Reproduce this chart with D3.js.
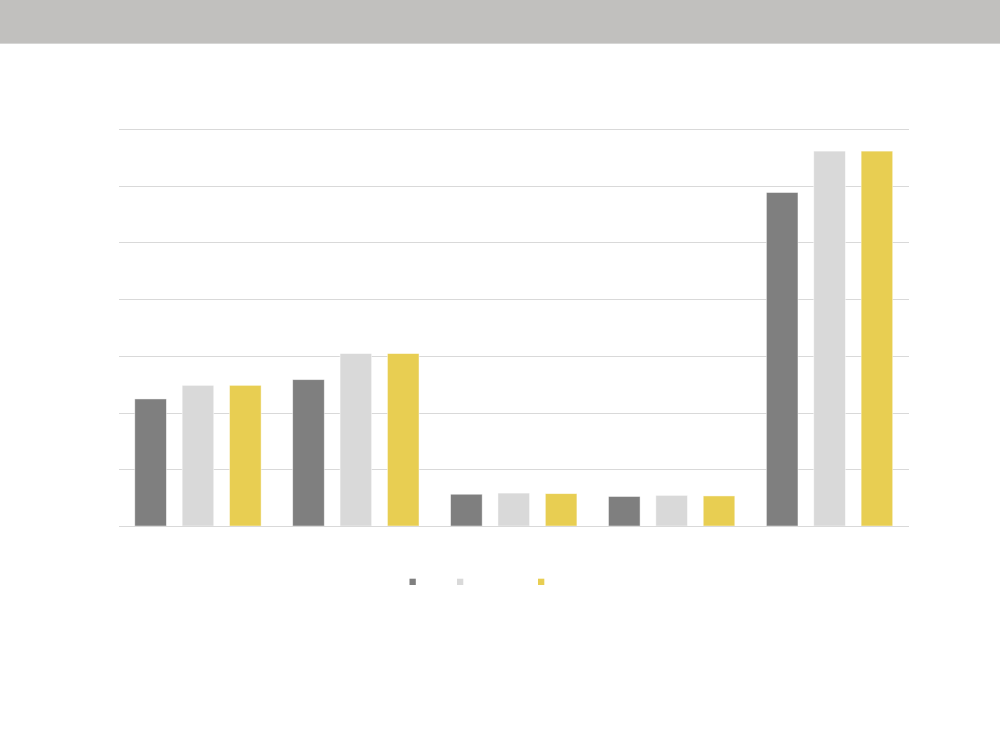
<!DOCTYPE html>
<html>
<head>
<meta charset="utf-8">
<script src="https://cdn.jsdelivr.net/npm/d3@7"></script>
<style>
  html, body { margin: 0; padding: 0; background: #fff; }
  svg { display: block; font-family: "Liberation Sans", Arial, sans-serif; }
</style>
</head>
<body>
<svg id="chart" width="1000" height="750"></svg>
<script>
// Categories along the x axis (labels are blank on this chart)
const categories = ["c1", "c2", "c3", "c4", "c5"];
// Series names (legend entries, shown without text)
const seriesNames = ["s1", "s2", "s3"];
// Values per series, one per category
const series1 = [22.4, 25.8, 5.6, 5.2, 58.8];
const series2 = [24.8, 30.4, 5.8, 5.4, 66.1];
const series3 = [24.8, 30.4, 5.7, 5.3, 66.1];
// Gridline values
const yTicks = [0, 10, 20, 30, 40, 50, 60, 70];

const colors = ["#7f7f7f", "#d9d9d9", "#e8ce52"];
const allSeries = [series1, series2, series3];

const svg = d3.select("#chart");

// Header band
svg.append("rect").attr("x", 0).attr("y", 0).attr("width", 1000).attr("height", 43)
  .attr("fill", "#c1c0be");
svg.append("rect").attr("x", 0).attr("y", 43).attr("width", 1000).attr("height", 1)
  .attr("fill", "#d6d6d5");

const margin = { left: 119, right: 91.5, top: 129, bottom: 224 };
const width = 1000 - margin.left - margin.right;
const height = 750 - margin.top - margin.bottom;

const g = svg.append("g").attr("transform", `translate(${margin.left},${margin.top})`);

const x0 = d3.scaleBand().domain(categories).range([0, width]).padding(0);
const x1 = d3.scaleBand().domain(seriesNames).range([0, x0.bandwidth()])
  .paddingInner(1 / 3).paddingOuter(1 / 3);
const y = d3.scaleLinear().domain([0, 70]).range([height, 0]);

// Horizontal gridlines
const yAxis = d3.axisLeft(y).tickValues(yTicks).tickSize(-width).tickFormat("");
const gy = g.append("g").call(yAxis);
gy.select(".domain").remove();
gy.selectAll(".tick line").attr("stroke", "#d9d9d9").attr("stroke-width", 1)
  .attr("shape-rendering", "crispEdges");

// Bars
const groups = g.selectAll(".grp").data(categories).join("g")
  .attr("class", "grp")
  .attr("transform", d => `translate(${x0(d)},0)`);

groups.selectAll("rect")
  .data((c, i) => seriesNames.map((s, k) => ({ s, k, v: allSeries[k][i] })))
  .join("rect")
  .attr("x", d => x1(d.s))
  .attr("y", d => y(d.v))
  .attr("width", x1.bandwidth())
  .attr("height", d => y(0) - y(d.v))
  .attr("fill", d => colors[d.k])
  .attr("stroke", "#ffffff")
  .attr("stroke-opacity", 0.6)
  .attr("stroke-width", 0.75);

// Baseline
g.append("line").attr("x1", 0).attr("x2", width).attr("y1", y(0)).attr("y2", y(0))
  .attr("stroke", "#d9d9d9").attr("stroke-width", 1).attr("shape-rendering", "crispEdges");

// Legend swatches
const legendX = [409.5, 457, 538];
const legend = svg.append("g").attr("transform", "translate(0,578.7)");
legend.selectAll("rect").data(seriesNames).join("rect")
  .attr("x", (d, i) => legendX[i])
  .attr("y", 0)
  .attr("width", 6.3)
  .attr("height", 6.3)
  .attr("fill", (d, i) => colors[i]);
</script>
</body>
</html>
